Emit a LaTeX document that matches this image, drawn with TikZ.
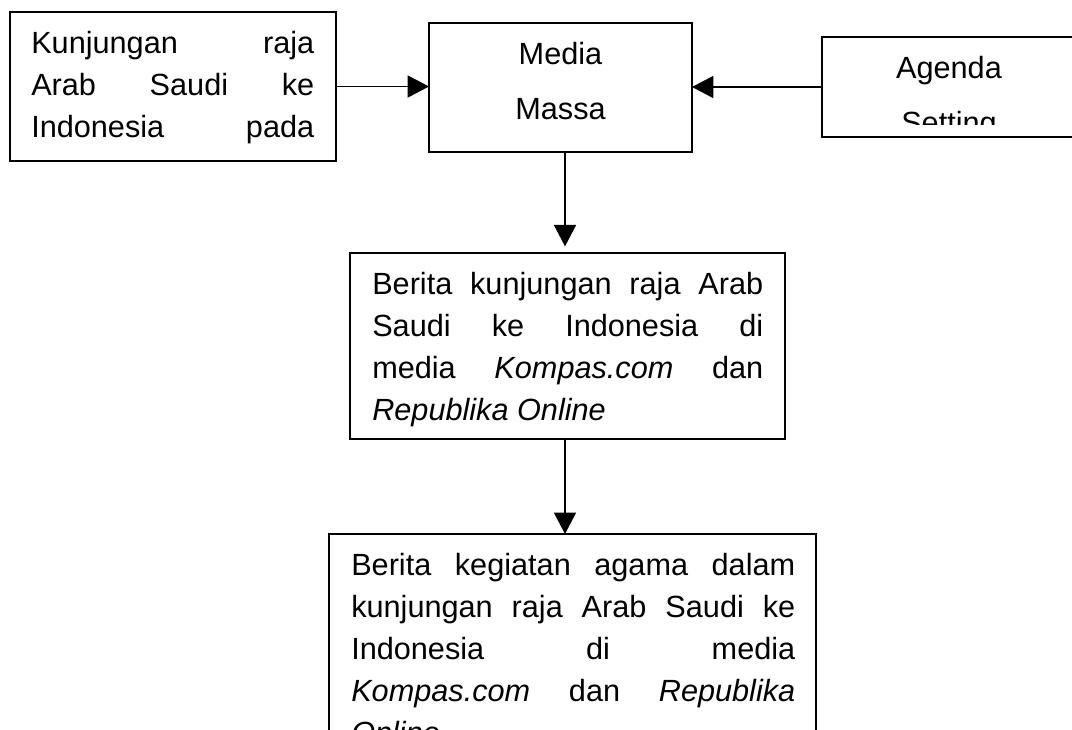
\documentclass[tikz,border=0pt]{standalone}
\usepackage{fontspec}
\setmainfont{Liberation Sans}
\usetikzlibrary{arrows.meta}

\tikzset{
  box/.style={draw,line width=1.2pt,rectangle,inner sep=0pt,outer sep=0pt},
  arr/.style={line width=1pt,-{Triangle[length=16pt,width=16.5pt]}},
  boxtext/.style={anchor=north west,inner sep=0pt,align=left,
    font=\fontsize{23}{31.5}\selectfont},
  titletext/.style={anchor=north,inner sep=0pt,align=center,
    font=\fontsize{23}{41.25}\selectfont}
}
\newcommand{\topgap}{\rule{0pt}{30.75pt}}
\newcommand{\jline}[2]{\hbox to #1{\spaceskip=0pt plus 1fil\relax #2}}

\begin{document}
\begin{tikzpicture}[x=0.75pt,y=-0.75pt]
\useasboundingbox (0,0) rectangle (1072,730);

% boxes
\node[box,minimum width=244.5pt,minimum height=111.75pt] (kunj) at (173,86.5) {};
\node[box,minimum width=197.25pt,minimum height=96.75pt] (media) at (560.5,87.5) {};
\node[box,minimum width=190.5pt,minimum height=75pt] (agenda) at (949,87) {};
\node[box,minimum width=326.25pt,minimum height=139.5pt] (berita) at (567.5,346) {};
\node[box,minimum width=365.25pt,minimum height=177pt] (kegiatan) at (572.5,652) {};

% texts
\node[boxtext] (kunjtext) at ([xshift=15.75pt]kunj.north west)
  {\jline{212.25pt}{\topgap Kunjungan raja}\\
   \jline{212.25pt}{Arab Saudi ke}\\
   \jline{212.25pt}{Indonesia pada}};
\node[titletext] (mediatext) at (media.north) {\topgap Media\\ Massa};
\begin{scope}
  \clip (agenda.north west) rectangle ([yshift=9pt]agenda.south east);
  \node[titletext] (agendatext) at (agenda.north) {\topgap Agenda\\ Setting};
\end{scope}
\node[boxtext] (beritatext) at ([xshift=16.5pt]berita.north west)
  {\jline{293.25pt}{\topgap Berita kunjungan raja Arab}\\
   \jline{293.25pt}{Saudi ke Indonesia di}\\
   \jline{293.25pt}{media \textit{Kompas.com} dan}\\
   \textit{Republika Online}};
\node[boxtext] (kegiatantext) at ([xshift=16.5pt]kegiatan.north west)
  {\jline{333pt}{\topgap Berita kegiatan agama dalam}\\
   \jline{333pt}{kunjungan raja Arab Saudi ke}\\
   \jline{333pt}{Indonesia di media}\\
   \jline{333pt}{\textit{Kompas.com} dan \textit{Republika}}\\
   \textit{Online}};

% arrows
\coordinate (axis) at (565,0);
\draw[arr] (kunj.east) -- (kunj.east -| media.west);
\draw[arr] (agenda.west) -- (agenda.west -| media.east);
\draw[arr,shorten >=5pt] (media.south -| axis) -- (berita.north -| axis);
\draw[arr] (berita.south -| axis) -- (kegiatan.north -| axis);
\end{tikzpicture}
\end{document}
